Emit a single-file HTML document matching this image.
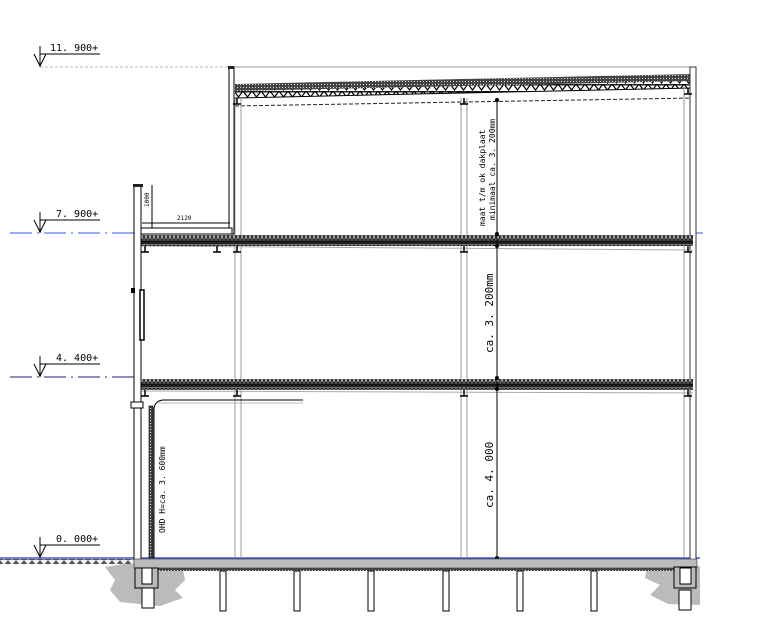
<!DOCTYPE html>
<html><head><meta charset="utf-8"><style>
html,body{margin:0;padding:0;background:#fff;width:763px;height:633px;overflow:hidden}
svg{display:block}
text{font-family:"DejaVu Sans Mono","Liberation Mono",monospace;fill:#000}
</style></head><body>
<svg width="763" height="633" viewBox="0 0 763 633" xmlns="http://www.w3.org/2000/svg">
<defs>
<pattern id="slab" width="4" height="11" patternUnits="userSpaceOnUse">
<rect width="4" height="11" fill="#777"/>
<rect x="0" y="0" width="4" height="2" fill="#222"/>
<ellipse cx="2" cy="6" rx="1.2" ry="2.8" fill="#ddd" stroke="#111" stroke-width="1"/>
<rect x="0" y="9.5" width="4" height="1.5" fill="#111"/>
</pattern>
<pattern id="roofv" width="9" height="7" patternUnits="userSpaceOnUse">
<rect width="9" height="1.5" fill="#222"/>
<path d="M0 0 L4.5 6 L9 0" fill="none" stroke="#000" stroke-width="1.2"/>
</pattern>
<pattern id="dots" width="3" height="3" patternUnits="userSpaceOnUse">
<rect width="3" height="3" fill="#444"/><rect width="1" height="1" fill="#ddd"/>
</pattern>
<pattern id="tri" width="8" height="5" patternUnits="userSpaceOnUse">
<rect width="8" height="5" fill="#555"/><path d="M0 0 L4 5 L8 0Z" fill="#eee"/>
</pattern>
</defs>

<!-- level lines -->
<line x1="40" y1="67" x2="230" y2="67" stroke="#bbb" stroke-dasharray="3,2"/>
<line x1="230" y1="67" x2="690" y2="67" stroke="#bbb" stroke-width="1.5"/>
<line x1="10" y1="233" x2="140" y2="233" stroke="#3355dd" stroke-dasharray="22,5,2,5"/>
<line x1="693" y1="233" x2="703" y2="233" stroke="#3355dd"/>
<line x1="10" y1="377" x2="140" y2="377" stroke="#222266" stroke-dasharray="22,5,2,5"/>
<line x1="0" y1="558" x2="700" y2="558" stroke="#2233cc" stroke-width="1.3"/>

<!-- level markers -->
<g stroke="#000" fill="none" stroke-width="1">
<line x1="40" y1="54" x2="100" y2="54"/><path d="M34 54 L40 66 L46 54"/><line x1="40" y1="46" x2="40" y2="67"/>
<line x1="40" y1="220" x2="100" y2="220"/><path d="M34 220 L40 232 L46 220"/><line x1="40" y1="212" x2="40" y2="233"/>
<line x1="40" y1="364" x2="100" y2="364"/><path d="M34 364 L40 376 L46 364"/><line x1="40" y1="356" x2="40" y2="377"/>
<line x1="40" y1="545" x2="100" y2="545"/><path d="M34 545 L40 557 L46 545"/><line x1="40" y1="537" x2="40" y2="558"/>
</g>
<text x="50" y="51" font-size="10">11. 900+</text>
<text x="56" y="217" font-size="10">7. 900+</text>
<text x="56" y="361" font-size="10">4. 400+</text>
<text x="56" y="542" font-size="10">0. 000+</text>

<!-- roof -->
<polygon points="235,84 693,74 693,81 235,91" fill="url(#dots)"/>
<polygon points="235,91 693,81 693,88 235,98" fill="url(#roofv)"/>
<line x1="235" y1="98" x2="693" y2="88" stroke="#000"/>
<line x1="235" y1="106" x2="693" y2="98" stroke="#222" stroke-dasharray="4,2"/>

<!-- upper left wall -->
<rect x="229" y="67" width="5" height="167" fill="#fff" stroke="#000" stroke-width="1"/>
<rect x="228" y="66" width="6" height="3" fill="#222"/>

<!-- right wall -->
<rect x="690" y="67" width="6" height="493" fill="#fff" stroke="#333"/>

<!-- columns (light gray) -->
<g stroke="#999" stroke-width="1" fill="none">
<line x1="235" y1="98" x2="235" y2="558"/><line x1="241" y1="98" x2="241" y2="558"/>
<line x1="461" y1="98" x2="461" y2="558"/><line x1="467" y1="98" x2="467" y2="558"/>
<line x1="684" y1="88" x2="684" y2="558"/>
<line x1="142" y1="246" x2="693" y2="250" stroke="#aaa"/>
<line x1="142" y1="391" x2="693" y2="393" stroke="#aaa"/>
</g>

<!-- floor slabs -->
<rect x="140" y="235" width="553" height="11" fill="url(#slab)"/>
<rect x="140" y="379" width="553" height="11" fill="url(#slab)"/>
<g stroke="#000" stroke-width="1.5">
<path d="M145 246v6M141 252h8M217 246v6M213 252h8M237 246v6M233 252h8M464 246v6M460 252h8M688 246v6M684 252h8"/>
<path d="M145 390v6M141 396h8M237 390v6M233 396h8M464 390v6M460 396h8M688 390v6M684 396h8"/>
<path d="M464 98v6M460 104h8M688 88v6M684 94h8M237 98v6M233 104h8"/>
</g>

<!-- balcony -->
<rect x="140" y="228" width="92" height="6" fill="#fff" stroke="#000"/>
<line x1="142" y1="223" x2="230" y2="223" stroke="#000"/>
<line x1="152" y1="185" x2="152" y2="228" stroke="#000"/>
<text x="0" y="0" font-size="6" transform="translate(149,207) rotate(-90)">1000</text>
<text x="177" y="220" font-size="6">2120</text>

<!-- left facade -->
<rect x="134" y="185" width="7" height="375" fill="#fff" stroke="#000"/>
<rect x="133" y="184" width="10" height="3" fill="#222"/>
<rect x="140" y="290" width="4" height="50" fill="#fff" stroke="#000" stroke-width="1.5"/>
<rect x="131" y="288" width="4" height="5" fill="#000"/>
<rect x="131" y="402" width="12" height="6" fill="#fff" stroke="#000"/>

<!-- OHD door -->
<rect x="149" y="406" width="4" height="152" fill="url(#dots)" stroke="#000" stroke-width="0.6"/>
<path d="M154 558 V410 Q154 401 163 400 H303" fill="none" stroke="#000"/>
<line x1="158" y1="403" x2="303" y2="403" stroke="#777" stroke-width="0.6"/>
<text x="0" y="0" font-size="8" transform="translate(165,533) rotate(-90)">OHD H=ca. 3. 600mm</text>

<!-- dimension line -->
<line x1="497" y1="99" x2="497" y2="558" stroke="#000"/>
<g fill="#000"><circle cx="497" cy="100" r="2"/><circle cx="497" cy="234" r="2"/><circle cx="497" cy="246" r="2"/><circle cx="497" cy="378" r="2"/><circle cx="497" cy="389" r="2"/><circle cx="497" cy="558" r="2"/></g>
<text x="0" y="0" font-size="8" transform="translate(485,226) rotate(-90)">maat t/m ok dakplaat</text>
<text x="0" y="0" font-size="8" transform="translate(495,220) rotate(-90)">minimaal ca. 3. 200mm</text>
<text x="0" y="0" font-size="11" font-family="Liberation Sans,sans-serif" transform="translate(493,353) rotate(-90)">ca. 3. 200mm</text>
<text x="0" y="0" font-size="11" font-family="Liberation Sans,sans-serif" transform="translate(493,508) rotate(-90)">ca. 4. 000</text>

<!-- foundations -->
<path d="M105 567 L130 563 L182 563 L185 580 L175 590 L183 598 L160 606 L120 602 L110 590 L115 580Z" fill="#bbb"/>
<path d="M647 567 L700 566 L700 605 L668 604 L650 595 L660 585 L645 578Z" fill="#bbb"/>
<rect x="0" y="559" width="135" height="5" fill="url(#tri)"/>
<rect x="134" y="559" width="563" height="9" fill="#bbb" stroke="#555" stroke-width="0.8"/>
<rect x="158" y="568" width="528" height="3" fill="url(#dots)"/>
<rect x="135" y="568" width="23" height="20" fill="#bbb" stroke="#000"/>
<rect x="674" y="567" width="22" height="21" fill="#bbb" stroke="#000"/>
<g fill="#fff" stroke="#000" stroke-width="1">
<rect x="142" y="568" width="10" height="16"/>
<rect x="680" y="568" width="11" height="16"/>
<rect x="142" y="588" width="12" height="20"/>
<rect x="220" y="571" width="6" height="40"/>
<rect x="294" y="571" width="6" height="40"/>
<rect x="368" y="571" width="6" height="40"/>
<rect x="443" y="571" width="6" height="40"/>
<rect x="517" y="571" width="6" height="40"/>
<rect x="591" y="571" width="6" height="40"/>
<rect x="679" y="590" width="12" height="20"/>
</g>
</svg>
</body></html>
